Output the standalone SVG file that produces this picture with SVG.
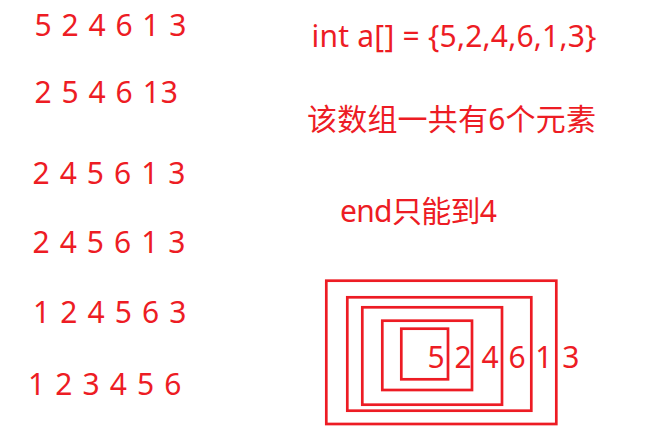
<svg xmlns="http://www.w3.org/2000/svg" width="647" height="447" viewBox="0 0 647 447">
<style>
text{font-family:"Noto Sans","Noto Sans CJK SC",sans-serif;font-size:30px;fill:#ED1C24}
.b{fill:none;stroke:#ED1C24;stroke-width:2.7}
</style>
<rect width="647" height="447" fill="#fff"/>
<g id="steps">
<text x="34.5" y="36" textLength="152" lengthAdjust="spacing">5 2 4 6 1 3</text>
<text x="34.5" y="103" textLength="143.5" lengthAdjust="spacing">2 5 4 6 13</text>
<text x="32.5" y="183.5" textLength="153" lengthAdjust="spacing">2 4 5 6 1 3</text>
<text x="32.5" y="253" textLength="153" lengthAdjust="spacing">2 4 5 6 1 3</text>
<text x="33" y="322.5" textLength="153.5" lengthAdjust="spacing">1 2 4 5 6 3</text>
<text x="28" y="395" textLength="153.5" lengthAdjust="spacing">1 2 3 4 5 6</text>
</g>
<g id="notes">
<text x="311.5" y="47" textLength="285" lengthAdjust="spacing">int a[] = {5,2,4,6,1,3}</text>
<text x="307" y="129.5" textLength="289" lengthAdjust="spacing">该数组一共有6个元素</text>
<text x="340" y="221.5" textLength="157" lengthAdjust="spacing">end只能到4</text>
</g>
<g id="nested-boxes">
<rect class="b" x="326.3" y="280.7" width="230" height="143.3"/>
<rect class="b" x="347.3" y="297.3" width="184" height="113.4"/>
<rect class="b" x="362.3" y="307.3" width="139.7" height="97.4"/>
<rect class="b" x="382.3" y="320.7" width="89.7" height="69.3"/>
<rect class="b" x="401.3" y="328.7" width="46.7" height="50.6"/>
<text x="427.5" y="368" textLength="152" lengthAdjust="spacing">5 2 4 6 1 3</text>
</g>
</svg>
